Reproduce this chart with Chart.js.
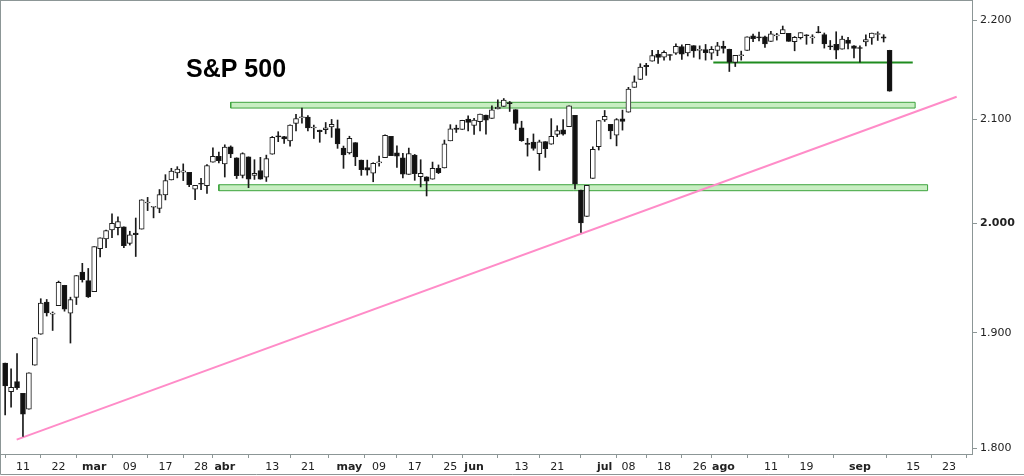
<!DOCTYPE html>
<html>
<head>
<meta charset="utf-8">
<script src="https://cdn.jsdelivr.net/npm/chart.js@4.4.1/dist/chart.umd.min.js"></script>
<style>
  html, body { margin: 0; padding: 0; background: #fff; }
  canvas { display: block; }
</style>
</head>
<body>
<canvas id="chart" width="1024" height="476"></canvas>
<script>
// ----- data (S&P 500 daily, feb-sep 2016) -----
const dates = [
  '02-08','02-09','02-10','02-11','02-12','02-16','02-17','02-18','02-19','02-22','02-23','02-24','02-25','02-26','02-29',
  '03-01','03-02','03-03','03-04','03-07','03-08','03-09','03-10','03-11','03-14','03-15','03-16','03-17','03-18','03-21','03-22','03-23','03-24','03-28','03-29','03-30','03-31',
  '04-01','04-04','04-05','04-06','04-07','04-08','04-11','04-12','04-13','04-14','04-15','04-18','04-19','04-20','04-21','04-22','04-25','04-26','04-27','04-28','04-29',
  '05-02','05-03','05-04','05-05','05-06','05-09','05-10','05-11','05-12','05-13','05-16','05-17','05-18','05-19','05-20','05-23','05-24','05-25','05-26','05-27','05-31',
  '06-01','06-02','06-03','06-06','06-07','06-08','06-09','06-10','06-13','06-14','06-15','06-16','06-17','06-20','06-21','06-22','06-23','06-24','06-27','06-28','06-29','06-30',
  '07-01','07-05','07-06','07-07','07-08','07-11','07-12','07-13','07-14','07-15','07-18','07-19','07-20','07-21','07-22','07-25','07-26','07-27','07-28','07-29',
  '08-01','08-02','08-03','08-04','08-05','08-08','08-09','08-10','08-11','08-12','08-15','08-16','08-17','08-18','08-19','08-22','08-23','08-24','08-25','08-26','08-29','08-30','08-31',
  '09-01','09-02','09-06','09-07','09-08','09-09'
];
const opens = [
  1873.25,1848.46,1857.10,1847.00,1833.40,1871.44,1898.80,1927.57,1916.74,1924.44,1942.88,1917.56,1931.87,1954.95,1947.13,
  1937.09,1976.60,1985.60,1994.01,1996.11,1996.88,1981.44,1990.97,1994.71,2019.27,2015.27,2014.24,2026.90,2041.16,2047.88,2048.64,2048.55,2032.48,2037.89,2035.75,2058.27,2063.77,
  2056.62,2073.19,2062.50,2045.56,2063.37,2045.54,2050.23,2043.72,2065.92,2082.89,2083.10,2078.83,2096.05,2101.52,2102.09,2091.49,2089.37,2089.84,2092.57,2090.93,2071.82,
  2067.17,2077.18,2060.30,2052.95,2047.77,2057.55,2062.63,2083.29,2067.17,2062.50,2046.53,2065.04,2044.38,2044.21,2041.88,2052.23,2052.65,2078.93,2091.44,2090.06,2100.13,
  2093.94,2097.71,2104.07,2100.83,2110.18,2112.71,2115.65,2109.57,2091.75,2076.65,2077.60,2066.36,2078.20,2075.58,2085.19,2089.75,2092.80,2103.81,2031.45,2006.67,2042.69,2073.17,
  2099.34,2095.05,2084.43,2100.42,2106.97,2131.72,2139.50,2153.81,2157.88,2165.13,2162.04,2163.79,2166.10,2172.91,2166.47,2173.71,2168.97,2169.81,2166.05,2168.83,
  2173.15,2169.94,2156.81,2163.51,2168.79,2183.76,2182.24,2182.81,2177.97,2183.74,2186.08,2186.24,2177.84,2181.90,2184.24,2181.58,2187.81,2185.09,2173.29,2175.10,2170.19,2179.45,2173.56,
  2171.33,2177.49,2181.61,2185.17,2182.76,2169.08
];
const highs = [
  1873.25,1868.25,1881.60,1847.00,1864.78,1895.77,1930.68,1930.00,1918.78,1946.70,1942.88,1932.08,1951.83,1962.96,1958.27,
  1978.35,1986.51,1993.69,2009.13,2006.12,1996.88,1992.69,2005.08,2022.37,2024.57,2015.94,2032.02,2046.24,2052.36,2053.91,2056.60,2048.55,2036.04,2042.67,2055.91,2072.21,2067.92,
  2075.07,2074.02,2062.50,2067.33,2063.37,2060.63,2062.93,2065.05,2083.18,2087.84,2083.22,2094.66,2104.89,2111.05,2103.78,2094.32,2089.37,2096.87,2099.89,2099.30,2073.85,
  2083.42,2077.18,2060.30,2060.23,2057.72,2064.15,2084.87,2083.29,2073.99,2066.79,2071.88,2065.69,2060.61,2044.21,2058.35,2055.58,2079.67,2094.73,2094.30,2099.06,2103.48,
  2100.97,2105.26,2104.07,2113.36,2119.22,2120.55,2117.64,2109.57,2098.12,2081.30,2085.65,2079.62,2078.20,2100.66,2093.66,2099.71,2113.32,2103.81,2031.45,2036.09,2073.13,2098.94,
  2108.71,2095.05,2100.72,2109.08,2131.71,2143.16,2155.40,2155.79,2168.99,2169.05,2168.35,2164.63,2175.63,2174.56,2175.11,2173.71,2173.54,2174.98,2172.85,2177.09,
  2178.29,2170.20,2163.79,2168.19,2182.87,2185.44,2187.66,2183.41,2188.45,2186.28,2193.81,2186.24,2183.08,2187.03,2185.00,2184.87,2193.42,2186.66,2179.00,2187.94,2183.48,2182.27,2173.79,
  2173.56,2184.87,2186.57,2187.87,2184.94,2169.08
];
const lows = [
  1828.46,1834.94,1850.32,1810.10,1833.40,1871.44,1898.80,1915.09,1902.17,1924.44,1919.44,1891.00,1925.41,1945.78,1931.81,
  1937.09,1968.80,1977.37,1986.77,1989.38,1977.43,1979.84,1969.25,1994.71,2012.05,2005.23,2010.04,2022.16,2041.16,2043.14,2040.57,2034.86,2022.49,2031.96,2028.31,2058.27,2057.46,
  2043.98,2062.57,2042.56,2043.09,2033.80,2041.69,2041.88,2039.74,2065.92,2078.13,2076.31,2073.65,2088.59,2096.32,2088.52,2081.20,2077.52,2085.80,2082.31,2071.62,2052.28,
  2066.11,2054.89,2045.55,2045.77,2039.45,2054.31,2062.63,2064.46,2053.13,2043.13,2046.53,2040.82,2034.49,2025.91,2041.88,2047.26,2052.65,2078.93,2087.08,2090.06,2088.66,
  2085.10,2088.59,2085.36,2100.83,2110.18,2112.71,2107.73,2089.96,2078.46,2064.10,2069.80,2050.37,2062.84,2075.58,2083.02,2084.36,2092.80,2032.57,1991.68,2006.67,2042.69,2070.00,
  2097.90,2080.86,2074.02,2089.39,2106.97,2131.72,2139.50,2143.71,2157.88,2155.79,2159.07,2159.01,2164.89,2159.75,2163.24,2161.95,2160.18,2159.07,2159.74,2163.49,
  2166.21,2147.58,2152.56,2159.07,2168.79,2177.85,2178.61,2172.00,2177.97,2179.42,2186.08,2178.14,2168.50,2180.46,2175.13,2175.96,2186.80,2171.25,2169.74,2160.39,2170.19,2170.41,2161.35,
  2157.09,2173.59,2175.10,2179.07,2177.49,2127.81
];
const closes = [
  1853.44,1852.21,1851.86,1829.08,1864.78,1895.58,1926.82,1917.83,1917.78,1945.50,1921.27,1929.80,1951.70,1948.05,1932.23,
  1978.35,1986.45,1993.40,1999.99,2001.76,1979.26,1989.26,1989.57,2022.19,2019.64,2015.93,2027.22,2040.59,2049.58,2051.60,2049.80,2036.71,2035.94,2037.05,2055.01,2063.95,2059.74,
  2072.78,2066.13,2045.17,2066.66,2041.91,2047.60,2041.99,2061.72,2082.42,2082.78,2080.73,2094.34,2100.80,2102.40,2091.48,2091.58,2087.79,2091.70,2095.15,2075.81,2065.30,
  2081.43,2063.37,2051.12,2050.63,2057.14,2058.69,2084.39,2064.46,2064.11,2046.61,2066.66,2047.21,2047.63,2040.04,2052.32,2048.04,2076.06,2090.54,2090.10,2099.06,2096.95,
  2099.33,2105.26,2099.13,2109.41,2112.13,2119.12,2115.48,2096.07,2079.06,2075.32,2071.50,2077.99,2071.22,2083.25,2088.90,2085.45,2113.32,2037.41,2000.54,2036.09,2070.77,2098.86,
  2102.95,2088.55,2099.73,2097.90,2129.90,2137.16,2152.14,2152.43,2163.75,2161.74,2166.89,2163.78,2173.02,2165.17,2175.03,2168.48,2169.18,2166.58,2170.06,2173.60,
  2170.84,2157.03,2163.79,2164.25,2182.87,2180.89,2181.74,2175.49,2185.79,2184.05,2190.15,2178.15,2182.22,2187.02,2183.87,2182.64,2186.90,2175.44,2172.47,2169.04,2180.38,2176.12,2170.95,
  2170.86,2179.98,2186.48,2186.16,2181.30,2127.81
];

// axis ticks (x positions are trading-day indexes counted from 02-08)
const xTickPos  = [3, 9, 15, 21, 27, 33, 37, 45, 51, 58, 63, 69, 75, 79, 87, 93, 101, 105, 111, 117, 121, 129, 135, 144, 153, 159];
const xTickText = ['11','22','mar','09','17','28','abr','13','21','may','09','17','25','jun','13','21','jul','08','18','26','ago','11','19','sep','15','23'];
const monthText = ['mar','abr','may','jun','jul','ago','sep'];
const yTicks = [1800, 1900, 2000, 2100, 2200];

// drawn studies: bands, support line, trend line (day index / price)
const resistSpan = [38.0, 153.3], resistBand = [2111.1, 2116.8];
const supportSpan = [36.0, 155.4], supportBand = [2030.9, 2036.6];
const shortSpan = [119.3, 152.9], shortLevel = 2156.7;
const trendX = [1.94, 160.3], trendY = [1807.3, 2122.3];

// ----- build datasets -----
const idx = opens.map((_, i) => i);
const bodies = idx.map(i => ({ x: i, y: [opens[i], closes[i]] }));
const wicks = idx.map(i => ({ x: i, y: [lows[i], highs[i]] }));
const bodyFill = idx.map(i => closes[i] >= opens[i] ? '#ffffff' : '#111111');

function box(span, band) {
  return [
    { x: span[0], y: band[0] }, { x: span[1], y: band[0] },
    { x: span[1], y: band[1] }, { x: span[0], y: band[1] }, { x: span[0], y: band[0] }
  ];
}
function fmtThousands(v) {
  const s = String(Math.round(v));
  return s.length > 3 ? s.slice(0, -3) + '.' + s.slice(-3) : s;
}
function noPad(s) {
  s.paddingTop = 0; s.paddingBottom = 0; s.paddingLeft = 0; s.paddingRight = 0;
}

const AXIS_GRAY = '#8c9696';

const framePlugin = {
  id: 'frame',
  afterDraw(c) {
    const g = c.ctx;
    const a = c.chartArea;
    g.save();
    g.strokeStyle = AXIS_GRAY;
    g.lineWidth = 1;
    g.strokeRect(0.5, 0.5, Math.round(a.right) - 1, Math.round(a.bottom));
    g.beginPath();
    g.moveTo(0.5, 0); g.lineTo(0.5, c.height - 1.5);
    g.lineTo(c.width, c.height - 1.5);
    g.stroke();
    // chart title
    g.fillStyle = '#000';
    g.font = 'bold 25px "Liberation Sans", Arial, sans-serif';
    g.textBaseline = 'alphabetic';
    g.fillText('S&P 500', 186, 77);
    g.restore();
  }
};

new Chart(document.getElementById('chart').getContext('2d'), {
  type: 'bar',
  data: {
    datasets: [
      { type: 'bar', data: bodies, backgroundColor: bodyFill, borderColor: '#1a1a1a', borderWidth: 1,
        borderSkipped: false, barThickness: 5, minBarLength: 1, grouped: false, order: 0 },
      { type: 'bar', data: wicks, backgroundColor: '#1a1a1a', barThickness: 1, grouped: false, order: 1 },
      { type: 'line', data: [{ x: shortSpan[0], y: shortLevel }, { x: shortSpan[1], y: shortLevel }],
        borderColor: '#1f8c1f', borderWidth: 2, pointRadius: 0, order: 2 },
      { type: 'line', data: [{ x: trendX[0], y: trendY[0] }, { x: trendX[1], y: trendY[1] }],
        borderColor: '#ff8cc8', borderWidth: 2, pointRadius: 0, order: 2 },
      { type: 'line', data: box(resistSpan, resistBand), borderColor: '#3da33d', borderWidth: 1,
        backgroundColor: '#c8eec2', fill: 'shape', pointRadius: 0, tension: 0, order: 3 },
      { type: 'line', data: box(supportSpan, supportBand), borderColor: '#3da33d', borderWidth: 1,
        backgroundColor: '#c8eec2', fill: 'shape', pointRadius: 0, tension: 0, order: 3 }
    ]
  },
  options: {
    responsive: false,
    animation: false,
    devicePixelRatio: 1,
    layout: { padding: { left: 1, top: 1, right: 0, bottom: 0 } },
    plugins: { legend: { display: false }, tooltip: { enabled: false } },
    scales: {
      x: {
        type: 'linear', min: -0.7, max: 163.05, offset: false,
        afterBuildTicks: s => { s.ticks = xTickPos.map(v => ({ value: v })); },
        afterFit: s => { s.height = 22; noPad(s); },
        ticks: {
          autoSkip: false, maxRotation: 0, padding: 3, color: '#222',
          callback: v => xTickText[xTickPos.indexOf(v)],
          font: c => ({ family: '"DejaVu Sans", Verdana, sans-serif', size: 11,
            weight: monthText.includes(xTickText[xTickPos.indexOf(c.tick ? c.tick.value : -1)]) ? 'bold' : 'normal' })
        },
        grid: { drawOnChartArea: false, tickLength: 4, color: AXIS_GRAY },
        border: { display: false }
      },
      y: {
        type: 'logarithmic', position: 'right', min: 1795.2, max: 2219.7,
        afterBuildTicks: s => { s.ticks = yTicks.map(v => ({ value: v })); },
        afterFit: s => { s.width = 51; noPad(s); },
        ticks: {
          padding: 3, color: '#222',
          callback: v => fmtThousands(v),
          font: c => ({ family: '"DejaVu Sans", Verdana, sans-serif', size: 11,
            weight: c.tick && c.tick.value === 2000 ? 'bold' : 'normal' })
        },
        grid: { drawOnChartArea: false, tickLength: 4, color: AXIS_GRAY },
        border: { display: false }
      }
    }
  },
  plugins: [framePlugin]
});
</script>
</body>
</html>
